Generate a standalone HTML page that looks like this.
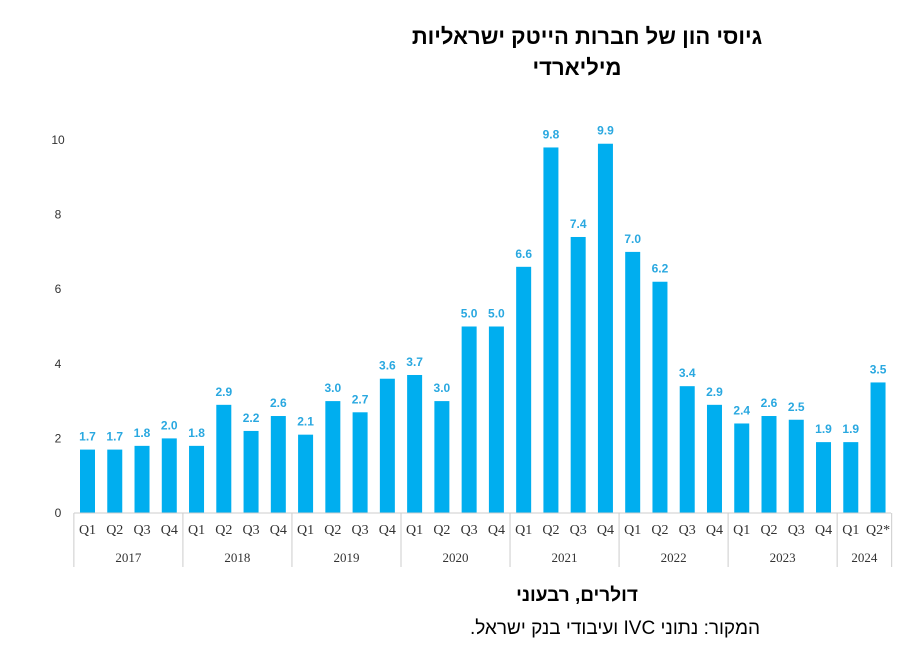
<!DOCTYPE html>
<html><head><meta charset="utf-8"><style>
body{margin:0;background:#fff;}
svg{display:block;font-family:"Liberation Sans","DejaVu Sans",sans-serif;}
</style></head><body>
<svg id="chart" width="916" height="654" viewBox="0 0 916 654">
<text x="587" y="44" text-anchor="middle" font-size="22" font-weight="bold" direction="rtl">גיוסי הון של חברות הייטק ישראליות</text>
<text x="577" y="75" text-anchor="middle" font-size="22" font-weight="bold" direction="rtl">מיליארדי</text>
<g id="yaxis"></g>
<g id="bars"></g>
<g id="xaxis"></g>
<text x="577" y="601" text-anchor="middle" font-size="19" font-weight="bold" direction="rtl">דולרים, רבעוני</text>
<text x="615" y="634" text-anchor="middle" font-size="19" direction="rtl">המקור: נתוני IVC ועיבודי בנק ישראל.</text>
</svg>
<script>
const quarters=["Q1","Q2","Q3","Q4","Q1","Q2","Q3","Q4","Q1","Q2","Q3","Q4","Q1","Q2","Q3","Q4","Q1","Q2","Q3","Q4","Q1","Q2","Q3","Q4","Q1","Q2","Q3","Q4","Q1","Q2*"];
const values=[1.7,1.7,1.8,2.0,1.8,2.9,2.2,2.6,2.1,3.0,2.7,3.6,3.7,3.0,5.0,5.0,6.6,9.8,7.4,9.9,7.0,6.2,3.4,2.9,2.4,2.6,2.5,1.9,1.9,3.5];
const years=["2017","2018","2019","2020","2021","2022","2023","2024"];
const yearCounts=[4,4,4,4,4,4,4,2];
const yTicks=[0,2,4,6,8,10];
const NS="http://www.w3.org/2000/svg";
const x0=87.5,step=27.26,bw=15,base=513,unit=37.3;
const xs=i=>x0+i*step;
const ys=v=>base-v*unit;
function mk(tag,attrs,parent){const e=document.createElementNS(NS,tag);for(const k in attrs)e.setAttribute(k,attrs[k]);parent.appendChild(e);return e;}
const yg=document.getElementById('yaxis'),bg=document.getElementById('bars'),xg=document.getElementById('xaxis');
yTicks.forEach(t=>{const e=mk('text',{x:58,y:ys(t)+4,'text-anchor':'middle','font-size':12,fill:'#333'},yg);e.textContent=t;

});
values.forEach((v,i)=>{
const r=mk('rect',{x:xs(i)-bw/2,y:ys(v),width:bw,height:v*unit,fill:'#00aeef'},bg);


const t=mk('text',{x:xs(i),y:ys(v)-9,'text-anchor':'middle','font-size':12,'font-weight':'bold',fill:'#29a8e0'},bg);t.textContent=v.toFixed(1);


const q=mk('text',{x:xs(i),y:534,'text-anchor':'middle','font-size':14,fill:'#333','font-family':'Liberation Serif, serif'},xg);q.textContent=quarters[i];


});
const al=mk('line',{x1:74,x2:891,y1:base,y2:base,stroke:'#ccc'},xg);


let idx=0;
const sepX=i=>xs(i)-step/2;
const l0=mk('line',{x1:sepX(0),x2:sepX(0),y1:base,y2:567,stroke:'#ccc'},xg);


years.forEach((y,k)=>{
const s=idx,e=idx+yearCounts[k];
const t=mk('text',{x:(sepX(s)+sepX(e))/2,y:562,'text-anchor':'middle','font-size':13,fill:'#333','font-family':'Liberation Serif, serif'},xg);t.textContent=y;


const l=mk('line',{x1:sepX(e),x2:sepX(e),y1:base,y2:567,stroke:'#ccc'},xg);


idx=e;});
</script>
</body></html>
